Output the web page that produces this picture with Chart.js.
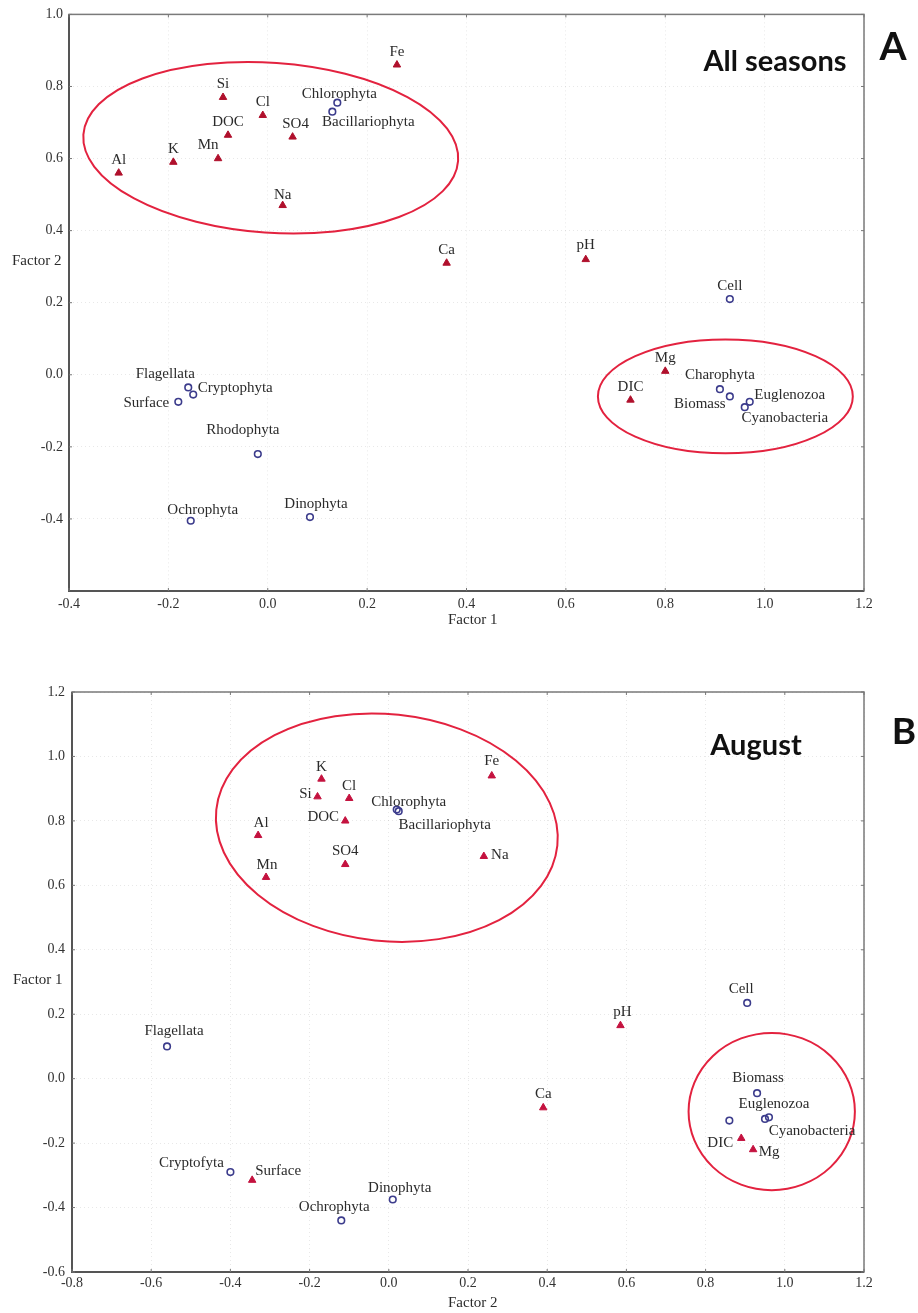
<!DOCTYPE html>
<html>
<head>
<meta charset="utf-8">
<title>Factor loadings - all seasons / August</title>
<script src="https://cdn.jsdelivr.net/npm/chart.js@4.4.1/dist/chart.umd.min.js"></script>
<style>
  html, body { margin: 0; padding: 0; background: #fff; }
  #wrap { position: relative; width: 918px; height: 1313px; overflow: hidden; }
  .panel { position: absolute; left: 0; }
  #panel-a { top: 0; }
  #panel-b { top: 640px; }
</style>
</head>
<body>
<div id="wrap">
  <div class="panel" id="panel-a"><canvas id="chartA" width="918" height="640"></canvas></div>
  <div class="panel" id="panel-b"><canvas id="chartB" width="918" height="673"></canvas></div>
</div>
<script>
// Panel A - all seasons (Factor 1 vs Factor 2)
const varNamesA = ['Al', 'K', 'Mn', 'Si', 'DOC', 'Cl', 'SO4', 'Na', 'Fe', 'Ca', 'pH', 'Mg', 'DIC'];
const varXA = [-0.30, -0.19, -0.10, -0.09, -0.08, -0.01, 0.05, 0.03, 0.26, 0.36, 0.64, 0.80, 0.73];
const varYA = [0.56, 0.59, 0.60, 0.77, 0.665, 0.72, 0.66, 0.47, 0.86, 0.31, 0.32, 0.01, -0.07];

const taxaNamesA = ['Chlorophyta', 'Bacillariophyta', 'Cell', 'Charophyta', 'Biomass', 'Euglenozoa',
  'Cyanobacteria', 'Flagellata', 'Cryptophyta', 'Surface', 'Rhodophyta', 'Ochrophyta', 'Dinophyta'];
const taxaXA = [0.14, 0.13, 0.93, 0.91, 0.93, 0.97, 0.96, -0.16, -0.15, -0.18, -0.02, -0.155, 0.085];
const taxaYA = [0.755, 0.73, 0.21, -0.04, -0.06, -0.075, -0.09, -0.035, -0.055, -0.075, -0.22, -0.405, -0.395];

const xTicksA = [-0.4, -0.2, 0.0, 0.2, 0.4, 0.6, 0.8, 1.0, 1.2];
const yTicksA = [-0.4, -0.2, 0.0, 0.2, 0.4, 0.6, 0.8, 1.0];

// Panel B - August (Factor 2 vs Factor 1)
const varNamesB = ['K', 'Si', 'Cl', 'DOC', 'Al', 'Mn', 'SO4', 'Fe', 'Na', 'pH', 'Ca', 'DIC', 'Mg', 'Surface'];
const varXB = [-0.17, -0.18, -0.10, -0.11, -0.33, -0.31, -0.11, 0.26, 0.24, 0.585, 0.39, 0.89, 0.92, -0.345];
const varYB = [0.93, 0.875, 0.87, 0.80, 0.755, 0.625, 0.665, 0.94, 0.69, 0.165, -0.09, -0.185, -0.22, -0.315];

const taxaNamesB = ['Chlorophyta', 'Bacillariophyta', 'Cell', 'Biomass', 'Euglenozoa', 'Cyanobacteria',
  'Charophyta', 'Flagellata', 'Cryptofyta', 'Ochrophyta', 'Dinophyta'];
const taxaXB = [0.02, 0.025, 0.905, 0.93, 0.96, 0.95, 0.86, -0.56, -0.40, -0.12, 0.01];
const taxaYB = [0.835, 0.83, 0.235, -0.045, -0.12, -0.125, -0.13, 0.10, -0.29, -0.44, -0.375];

const xTicksB = [-0.8, -0.6, -0.4, -0.2, 0.0, 0.2, 0.4, 0.6, 0.8, 1.0, 1.2];
const yTicksB = [-0.6, -0.4, -0.2, 0.0, 0.2, 0.4, 0.6, 0.8, 1.0, 1.2];

// cluster rings, in data units: [centre x, centre y, half width, half height, tilt deg]
const ringsA = [[0.006, 0.630, 0.378, 0.236, 4], [0.921, -0.060, 0.2565, 0.158, 0]];
const ringsB = [[-0.005, 0.779, 0.433, 0.352, 6], [0.967, -0.102, 0.210, 0.244, 0]];

// label offsets from the marker, pixels
const labelPosA = {
  Al: [0, -13], K: [0, -13], Mn: [-10, -13], Si: [0, -13], DOC: [0, -13], Cl: [0, -13],
  SO4: [3, -13], Na: [0, -10], Fe: [0, -13], Ca: [0, -13], pH: [0, -14], Mg: [0, -13], DIC: [0, -13],
  Chlorophyta: [2, -9], Bacillariophyta: [36, 10], Cell: [0, -13], Charophyta: [0, -14],
  Biomass: [-30, 8], Euglenozoa: [40, -7], Cyanobacteria: [40, 11], Flagellata: [-23, -13],
  Cryptophyta: [42, -7], Surface: [-32, 1], Rhodophyta: [-15, -24], Ochrophyta: [12, -11],
  Dinophyta: [6, -13]
};
const labelPosB = {
  K: [0, -12], Si: [-12, -3], Cl: [0, -12], DOC: [-22, -4], Al: [3, -12], Mn: [1, -12],
  SO4: [0, -13], Fe: [0, -15], Na: [16, -1], pH: [2, -13], Ca: [0, -14], DIC: [-21, 5],
  Mg: [16, 3], Surface: [26, -9], Chlorophyta: [12, -8], Bacillariophyta: [46, 14],
  Cell: [-6, -14], Biomass: [1, -15], Euglenozoa: [5, -13], Cyanobacteria: [47, 12],
  Flagellata: [7, -15], Cryptofyta: [-39, -9], Ochrophyta: [-7, -13], Dinophyta: [7, -11]
};

const SERIF = '"Liberation Serif", "Times New Roman", serif';

function points(names, xs, ys) {
  return names.map((n, i) => ({ x: xs[i], y: ys[i], name: n }));
}

// frame, tick marks, rings, labels and headings
const decorPlugin = {
  id: 'decor',
  beforeDatasetsDraw(chart) {
    const cfg = chart.options.plugins.decor;
    const ctx = chart.ctx;
    const xs = chart.scales.x, ys = chart.scales.y;
    ctx.save();
    ctx.strokeStyle = '#e3223f';
    ctx.lineWidth = 2;
    cfg.rings.forEach(r => {
      const cx = xs.getPixelForValue(r[0]);
      const cy = ys.getPixelForValue(r[1]);
      const rx = Math.abs(xs.getPixelForValue(r[0] + r[2]) - cx);
      const ry = Math.abs(ys.getPixelForValue(r[1] + r[3]) - cy);
      ctx.beginPath();
      ctx.ellipse(cx, cy, rx, ry, r[4] * Math.PI / 180, 0, Math.PI * 2);
      ctx.stroke();
    });
    ctx.restore();
  },
  afterDatasetsDraw(chart) {
    const cfg = chart.options.plugins.decor;
    const ctx = chart.ctx;
    const a = chart.chartArea;
    const xs = chart.scales.x, ys = chart.scales.y;
    ctx.save();

    // box
    ctx.strokeStyle = '#7a7a7a';
    ctx.lineWidth = 1.5;
    ctx.strokeRect(a.left, a.top, a.right - a.left, a.bottom - a.top);
    ctx.strokeStyle = '#555';
    ctx.lineWidth = 2;
    ctx.beginPath();
    ctx.moveTo(a.left, a.top);
    ctx.lineTo(a.left, a.bottom);
    ctx.lineTo(a.right, a.bottom);
    ctx.stroke();

    // small inward ticks on all four sides
    ctx.strokeStyle = '#777';
    ctx.lineWidth = 1;
    ctx.beginPath();
    xs.ticks.forEach(t => {
      const px = xs.getPixelForValue(t.value);
      ctx.moveTo(px, a.bottom); ctx.lineTo(px, a.bottom - 3);
      ctx.moveTo(px, a.top); ctx.lineTo(px, a.top + 3);
    });
    ys.ticks.forEach(t => {
      const py = ys.getPixelForValue(t.value);
      ctx.moveTo(a.left, py); ctx.lineTo(a.left + 3, py);
      ctx.moveTo(a.right, py); ctx.lineTo(a.right - 3, py);
    });
    ctx.stroke();

    // point labels
    ctx.font = '15px ' + SERIF;
    ctx.fillStyle = '#2b2b2b';
    ctx.textAlign = 'center';
    ctx.textBaseline = 'middle';
    chart.data.datasets.forEach((ds, i) => {
      const meta = chart.getDatasetMeta(i);
      meta.data.forEach((el, j) => {
        const name = ds.data[j].name;
        const off = cfg.labels[name];
        if (!off) return;
        ctx.fillText(name, el.x + off[0], el.y + off[1]);
      });
    });

    // axis titles
    ctx.textAlign = 'left';
    ctx.fillText(cfg.yTitle.text, cfg.yTitle.x, cfg.yTitle.y);
    ctx.fillText(cfg.xTitle.text, cfg.xTitle.x, cfg.xTitle.y);

    // headings
    ctx.fillStyle = '#111';
    ctx.textBaseline = 'alphabetic';
    ctx.textAlign = 'center';
    ctx.font = 'bold 29px Lato, "Open Sans", sans-serif';
    ctx.fillText(cfg.heading.text, cfg.heading.x, cfg.heading.y);
    ctx.font = 'bold ' + cfg.letter.size + 'px Lato, "Open Sans", sans-serif';
    ctx.fillText(cfg.letter.text, cfg.letter.x, cfg.letter.y);
    ctx.restore();
  }
};

function buildChart(canvasId, opt) {
  const ctx = document.getElementById(canvasId).getContext('2d');
  const tickFont = { family: SERIF, size: 14 };
  return new Chart(ctx, {
    type: 'scatter',
    data: {
      datasets: [
        {
          label: 'variables',
          data: opt.vars,
          pointStyle: 'triangle',
          pointRadius: 4.3,
          backgroundColor: opt.triColor,
          borderColor: opt.triColor,
          borderWidth: 1
        },
        {
          label: 'taxa',
          data: opt.taxa,
          pointStyle: 'circle',
          pointRadius: 3.3,
          backgroundColor: 'rgba(255,255,255,0)',
          borderColor: '#3c3c8c',
          borderWidth: 1.6
        }
      ]
    },
    options: {
      responsive: false,
      animation: false,
      devicePixelRatio: 1,
      layout: { padding: opt.padding },
      plugins: {
        legend: { display: false },
        tooltip: { enabled: false },
        decor: opt.decor
      },
      scales: {
        x: {
          type: 'linear',
          min: opt.xTicks[0],
          max: opt.xTicks[opt.xTicks.length - 1],
          afterBuildTicks: s => { s.ticks = opt.xTicks.map(v => ({ value: v })); },
          afterFit: s => { s.height = opt.xAxisH; },
          grid: { color: 'rgba(0,0,0,0.09)', drawTicks: false },
          border: { display: false, dash: [1, 3] },
          ticks: {
            font: tickFont, color: '#333', padding: opt.xPad,
            callback: v => Number(v).toFixed(1)
          }
        },
        y: {
          type: 'linear',
          min: opt.yMin,
          max: opt.yTicks[opt.yTicks.length - 1],
          afterBuildTicks: s => { s.ticks = opt.yTicks.map(v => ({ value: v })); },
          afterFit: s => { s.width = opt.yAxisW; },
          grid: { color: 'rgba(0,0,0,0.09)', drawTicks: false },
          border: { display: false, dash: [1, 3] },
          ticks: {
            font: tickFont, color: '#333', padding: opt.yPad,
            callback: v => Number(v).toFixed(1)
          }
        }
      }
    },
    plugins: [decorPlugin]
  });
}

buildChart('chartA', {
  vars: points(varNamesA, varXA, varYA),
  taxa: points(taxaNamesA, taxaXA, taxaYA),
  triColor: '#b0102c',
  xTicks: xTicksA, yTicks: yTicksA, yMin: -0.6,
  padding: { top: 9, right: 54, left: 0, bottom: 0 },
  xAxisH: 49, yAxisW: 69, xPad: 5, yPad: 6,
  decor: {
    rings: ringsA,
    labels: labelPosA,
    yTitle: { text: 'Factor 2', x: 12, y: 261 },
    xTitle: { text: 'Factor 1', x: 448, y: 620 },
    heading: { text: 'All seasons', x: 775, y: 71 },
    letter: { text: 'A', x: 893, y: 60, size: 39 }
  }
});

buildChart('chartB', {
  vars: points(varNamesB, varXB, varYB),
  taxa: points(taxaNamesB, taxaXB, taxaYB),
  triColor: '#c4123f',
  xTicks: xTicksB, yTicks: yTicksB, yMin: -0.6,
  padding: { top: 52, right: 54, left: 0, bottom: 0 },
  xAxisH: 41, yAxisW: 72, xPad: 3, yPad: 7,
  decor: {
    rings: ringsB,
    labels: labelPosB,
    yTitle: { text: 'Factor 1', x: 13, y: 340 },
    xTitle: { text: 'Factor 2', x: 448, y: 663 },
    heading: { text: 'August', x: 756, y: 115 },
    letter: { text: 'B', x: 904, y: 104, size: 37 }
  }
});
</script>
</body>
</html>
